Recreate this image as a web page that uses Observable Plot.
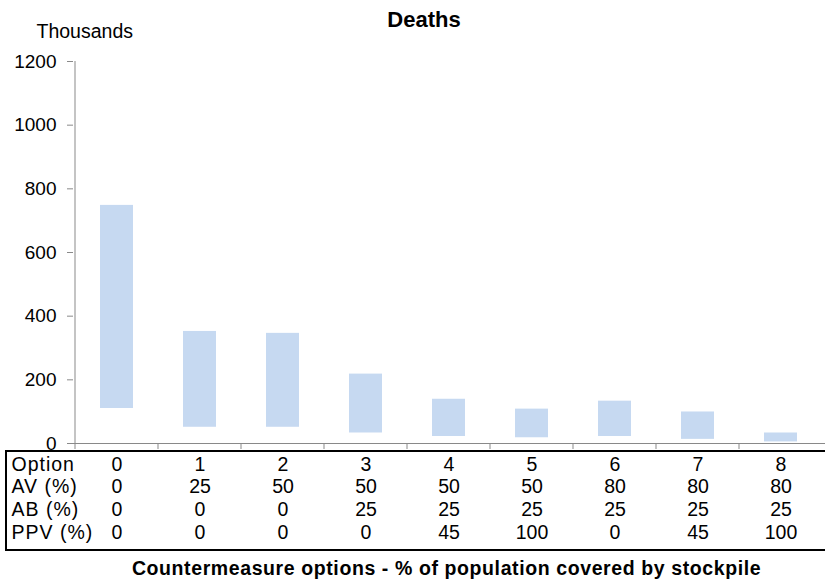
<!DOCTYPE html>
<html><head><meta charset="utf-8">
<script src="https://cdn.jsdelivr.net/npm/d3@7"></script>
<script src="https://cdn.jsdelivr.net/npm/@observablehq/plot@0.6"></script>
<style>html,body{margin:0;padding:0;background:#fff} svg{display:block}</style>
</head><body><div id="chart"></div>
<script>
// ---- data ----
const options = [0, 1, 2, 3, 4, 5, 6, 7, 8];
const deathsLow = [110, 51, 51, 33, 22, 18, 22, 13, 5];
const deathsHigh = [748, 352, 346, 218, 139, 108, 133, 99, 33];
const avPct = [0, 25, 50, 50, 50, 50, 80, 80, 80];
const abPct = [0, 0, 0, 25, 25, 25, 25, 25, 25];
const ppvPct = [0, 0, 0, 0, 45, 100, 0, 45, 100];
const rowLabels = ["Option", "AV (%)", "AB (%)", "PPV (%)"];
const yTicks = [0, 200, 400, 600, 800, 1000, 1200];
const titleText = "Deaths";
const unitText = "Thousands";
const captionText = "Countermeasure options - % of population covered by stockpile";

// ---- build ----
const data = options.map((o, i) => ({option: o, low: deathsLow[i], high: deathsHigh[i]}));
const rows = [options, avPct, abPct, ppvPct];
const FONT = '"Liberation Sans", Arial, Helvetica, sans-serif';
const GRAY = "#898989";
const rowDy = [27, 49.7, 72.4, 95.1];

const tableMarks = rows.flatMap((vals, k) => [
  Plot.text(options, {x: d => d, text: (d, i) => String(vals[i]), frameAnchor: "bottom",
    lineAnchor: "bottom", dy: rowDy[k], fontSize: 19.5, fill: "black"}),
  Plot.text([rowLabels[k]], {text: d => d, frameAnchor: "bottom-left", textAnchor: "start",
    lineAnchor: "bottom", dx: -62, dy: rowDy[k], fontSize: 19.5, fill: "black"})
]);

const chart = Plot.plot({
  width: 825,
  height: 582,
  marginTop: 61,
  marginBottom: 139,
  marginLeft: 73,
  marginRight: 0,
  style: {fontFamily: FONT, fontSize: "19px", background: "white", color: "black", overflow: "visible"},
  x: {type: "band", domain: options, paddingInner: 0.6, paddingOuter: 0.3, axis: null},
  y: {domain: [0, 1200], axis: null},
  marks: [
    Plot.barY(data, {x: "option", y1: "low", y2: "high", fill: "#c6d9f1"}),
    Plot.ruleY([0], {stroke: GRAY}),
    Plot.axisY({ticks: yTicks, tickSize: 6, tickPadding: 11, tickFormat: d => String(d),
      fontSize: 19, stroke: GRAY, fill: "black", label: null}),
    ...tableMarks,
    Plot.text([titleText], {text: d => d, frameAnchor: "top", lineAnchor: "bottom", dx: -25.5, dy: -34.3,
      fontSize: 22, fontWeight: "bold", fill: "black"}),
    Plot.text([unitText], {text: d => d, frameAnchor: "top-left", textAnchor: "start", lineAnchor: "bottom",
      dx: -37, dy: -23.7, fontSize: 19.5, fill: "black"}),
    Plot.text([captionText], {text: d => d, frameAnchor: "bottom", lineAnchor: "bottom", dx: -3, dy: 131.7,
      fontSize: 19.5, fontWeight: "bold", fill: "black"})
  ]
});

const svg = d3.select(chart);
// letter spacing to match the reference's wider row labels and caption
svg.selectAll("text").each(function() {
  const t = this.textContent;
  if (rowLabels.includes(t)) d3.select(this).attr("letter-spacing", "1px");
  else if (t === captionText) d3.select(this).attr("letter-spacing", "0.6px");
});

// axis spine, category boundary ticks and table frame (decoration, placed via the plot's scales)
const xs = chart.scale("x"), ys = chart.scale("y");
const y0 = ys.apply(0), yTop = ys.apply(1200);
const half = (xs.step - xs.bandwidth) / 2;
const deco = svg.append("g");
deco.append("line").attr("x1", xs.apply(options[0]) - half).attr("x2", xs.apply(options[0]) - half)
  .attr("y1", yTop).attr("y2", y0).attr("stroke", GRAY);
options.forEach(o => {
  const bx = xs.apply(o) - half;
  deco.append("line").attr("x1", bx).attr("x2", bx).attr("y1", y0).attr("y2", y0 + 6).attr("stroke", GRAY);
});
deco.append("rect").attr("x", 6).attr("y", y0 + 8).attr("width", 840).attr("height", 99)
  .attr("fill", "none").attr("stroke", "black").attr("stroke-width", 2);

document.getElementById("chart").appendChild(chart);
</script>
</body></html>
